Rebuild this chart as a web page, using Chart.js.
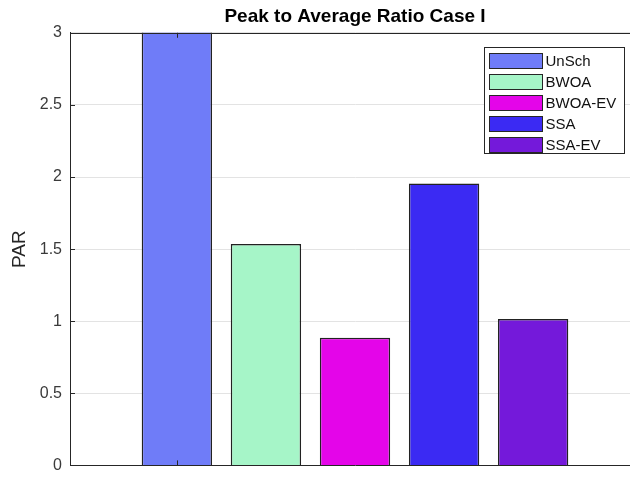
<!DOCTYPE html>
<html>
<head>
<meta charset="utf-8">
<script src="https://cdn.jsdelivr.net/npm/chart.js@4"></script>
<style>
  html, body { margin: 0; padding: 0; background: #fff; overflow: hidden; }
  #wrap { width: 710px; height: 483px; }
</style>
</head>
<body>
<div id="wrap"><canvas id="chart" width="710" height="483"></canvas></div>
<script>
// data
const methods = ['UnSch', 'BWOA', 'BWOA-EV', 'SSA', 'SSA-EV'];
const positions = [1, 2, 3, 4, 5];
const parValues = [3.2, 1.535, 0.885, 1.955, 1.015];   // UnSch runs off the top of the axes
const barColors = ['#6f7cf8', '#a6f5c8', '#e405e9', '#3b2af3', '#7419da'];
const yTicks = [0, 0.5, 1, 1.5, 2, 2.5, 3];
const xTicks = [1];

Chart.defaults.font.family = "'Liberation Sans', Arial, sans-serif";

const axisColor = '#262626';

// matlab-ish frame: top edge, inward tick marks, boxed legend
const matlabAxes = {
  id: 'matlabAxes',
  afterDatasetsDraw(chart) {
    const { ctx, chartArea: a, scales: { x, y } } = chart;
    ctx.save();
    ctx.strokeStyle = axisColor;
    ctx.lineWidth = 1;
    ctx.beginPath();
    const top = Math.round(a.top) + 0.5;
    ctx.moveTo(a.left, top);
    ctx.lineTo(a.right, top);
    yTicks.forEach(v => {
      const py = Math.round(y.getPixelForValue(v)) + 0.5;
      ctx.moveTo(a.left, py);
      ctx.lineTo(a.left + 5, py);
    });
    xTicks.forEach(v => {
      const px = Math.round(x.getPixelForValue(v)) + 0.5;
      ctx.moveTo(px, a.bottom);
      ctx.lineTo(px, a.bottom - 5);
      ctx.moveTo(px, a.top);
      ctx.lineTo(px, a.top + 5);
    });
    ctx.stroke();
    ctx.restore();
  },
  afterDraw(chart) {
    const { ctx, chartArea: a } = chart;
    const boxL = Math.round(a.right - 156) + 0.5;
    const boxT = Math.round(a.top + 14) + 0.5;
    const boxW = 140, boxH = 106;
    ctx.save();
    ctx.fillStyle = '#fff';
    ctx.fillRect(boxL, boxT, boxW, boxH);
    ctx.strokeStyle = axisColor;
    ctx.lineWidth = 1;
    ctx.strokeRect(boxL, boxT, boxW, boxH);
    ctx.font = "15px 'Liberation Sans', Arial, sans-serif";
    ctx.textBaseline = 'middle';
    methods.forEach((m, i) => {
      const cy = boxT + 13 + 21 * i;
      ctx.fillStyle = barColors[i];
      ctx.fillRect(boxL + 5, cy - 7.5, 53, 15);
      ctx.strokeStyle = axisColor;
      ctx.strokeRect(boxL + 5, Math.round(cy - 7.5) + 0.5, 53, 15);
      ctx.fillStyle = '#111';
      ctx.fillText(m, boxL + 61, cy + 1);
    });
    ctx.restore();
  }
};

new Chart(document.getElementById('chart'), {
  type: 'bar',
  data: {
    datasets: [{
      label: 'PAR',
      data: positions.map((p, i) => ({ x: p, y: parValues[i] })),
      backgroundColor: barColors,
      borderColor: '#222',
      borderWidth: 1.5,
      categoryPercentage: 1,
      barPercentage: 0.79
    }]
  },
  options: {
    responsive: false,
    animation: false,
    devicePixelRatio: 1,
    layout: { padding: 0 },
    plugins: {
      legend: { display: false },
      tooltip: { enabled: false },
      title: {
        display: true,
        text: 'Peak to Average Ratio Case I',
        color: '#000',
        font: { size: 19, weight: 'bold' },
        padding: { top: 5, bottom: 5 }
      }
    },
    scales: {
      x: {
        type: 'linear',
        min: -0.2,
        max: 6.2,
        offset: false,
        afterBuildTicks: s => { s.ticks = xTicks.map(v => ({ value: v })); },
        afterFit: s => { s.height = 11; },
        grid: { display: false, offset: false },
        ticks: { display: false },
        border: { display: true, color: axisColor, width: 1 }
      },
      y: {
        min: 0,
        max: 3,
        afterBuildTicks: s => { s.ticks = yTicks.map(v => ({ value: v })); },
        afterFit: s => { s.width = 70; },
        grid: { color: '#e3e3e3', drawTicks: false },
        border: { display: true, color: axisColor, width: 1 },
        ticks: { color: '#3a3a3a', font: { size: 16 }, padding: 8, callback: v => String(v) },
        title: {
          display: true,
          text: 'PAR',
          color: axisColor,
          font: { size: 19 },
          padding: { top: 8.6, bottom: 0 }
        }
      },
      yRight: {
        position: 'right',
        display: true,
        afterFit: s => { s.width = 70; },
        grid: { display: false },
        ticks: { display: false },
        border: { display: false }
      }
    }
  },
  plugins: [matlabAxes]
});
</script>
</body>
</html>
